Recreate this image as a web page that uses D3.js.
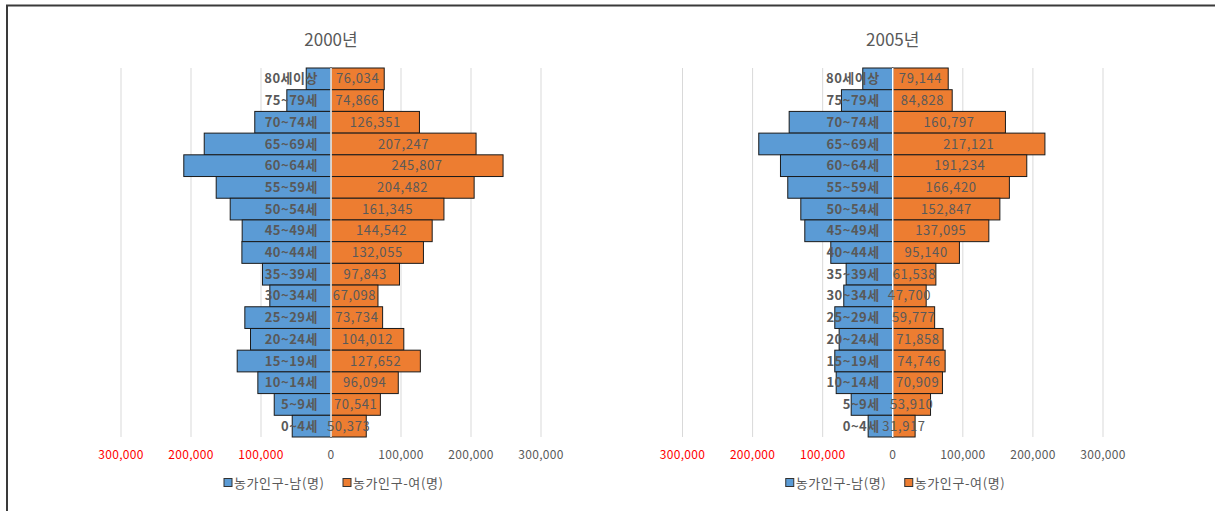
<!DOCTYPE html>
<html>
<head>
<meta charset="utf-8">
<script src="https://cdn.jsdelivr.net/npm/d3@7"></script>
<style>
  body { margin: 0; background: #fff; }
  text { font-family: "Noto Sans CJK KR", "Noto Sans", sans-serif; }
</style>
</head>
<body>
<script>
var width = 1215,
    height = 511;

// age groups, top to bottom
var ages = ["80세이상", "75~79세", "70~74세", "65~69세", "60~64세", "55~59세", "50~54세",
            "45~49세", "40~44세", "35~39세", "30~34세", "25~29세", "20~24세", "15~19세",
            "10~14세", "5~9세", "0~4세"];

// 2000 (male values, female from the labels)
var male2000 = [35400, 63100, 108900, 181100, 210300, 164000, 144000, 126900, 127300,
                97900, 87400, 123100, 115000, 134000, 104500, 81100, 55400];
var female2000 = [76034, 74866, 126351, 207247, 245807, 204482, 161345, 144542, 132055,
                  97843, 67098, 73734, 104012, 127652, 96094, 70541, 50373];

// 2005
var male2005 = [42800, 73200, 147800, 191200, 160200, 149800, 131200, 125500, 88400,
                66500, 69900, 82700, 76500, 82700, 80700, 59300, 35100];
var female2005 = [79144, 84828, 160797, 217121, 191234, 166420, 152847, 137095, 95140,
                  61538, 47700, 59777, 71858, 74746, 70909, 53910, 31917];

var ticks = [-300000, -200000, -100000, 0, 100000, 200000, 300000];
var seriesNames = ["농가인구-남(명)", "농가인구-여(명)"];

var blue = "#5B9BD5", orange = "#ED7D31", gray = "#595959";

var svg = d3.select("body").append("svg")
    .attr("width", width)
    .attr("height", height);

// frame: top and left edge only
svg.append("path")
    .attr("d", "M7,511 V5.5 H1215")
    .attr("fill", "none")
    .attr("stroke", "#3a3a3a")
    .attr("stroke-width", 2);

var fmt = d3.format(",");

function drawPanel(title, male, female, x0, x1) {
    var x = d3.scaleLinear().domain([-300000, 300000]).range([x0, x1]);
    var y = d3.scaleBand().domain(ages).range([68, 437]).padding(0);
    var g = svg.append("g");
    var cx = x(0);

    g.append("text")
        .attr("x", cx)
        .attr("y", 46)
        .attr("text-anchor", "middle")
        .attr("font-size", 17)
        .attr("fill", gray)
        .text(title);

    // gridlines
    g.selectAll(".grid")
        .data(ticks)
        .enter().append("line")
            .attr("x1", function(d) { return x(d); })
            .attr("x2", function(d) { return x(d); })
            .attr("y1", y.range()[0])
            .attr("y2", y.range()[1])
            .attr("stroke", "#d9d9d9")
            .attr("stroke-width", 1);

    // male bars (to the left)
    g.selectAll(".m")
        .data(male)
        .enter().append("rect")
            .attr("x", function(d) { return x(-d); })
            .attr("y", function(d, i) { return y(ages[i]); })
            .attr("width", function(d) { return cx - x(-d); })
            .attr("height", y.bandwidth())
            .attr("fill", blue)
            .attr("stroke", "#1a1a1a")
            .attr("stroke-width", 1);

    // female bars (to the right)
    g.selectAll(".f")
        .data(female)
        .enter().append("rect")
            .attr("x", cx)
            .attr("y", function(d, i) { return y(ages[i]); })
            .attr("width", function(d) { return x(d) - cx; })
            .attr("height", y.bandwidth())
            .attr("fill", orange)
            .attr("stroke", "#1a1a1a")
            .attr("stroke-width", 1);

    // white centre line
    g.append("line")
        .attr("x1", cx).attr("x2", cx)
        .attr("y1", y.range()[0]).attr("y2", y.range()[1])
        .attr("stroke", "#fff")
        .attr("stroke-width", 1.5);

    // age labels
    g.selectAll(".age")
        .data(ages)
        .enter().append("text")
            .attr("x", cx - 13)
            .attr("y", function(d) { return y(d) + y.bandwidth() / 2; })
            .attr("dy", "0.35em")
            .attr("text-anchor", "end")
            .attr("font-size", 13)
            .attr("letter-spacing", 0.5)
            .attr("font-weight", "bold")
            .attr("fill", gray)
            .text(function(d) { return d; });

    // female value labels
    g.selectAll(".val")
        .data(female)
        .enter().append("text")
            .attr("x", function(d) { return (cx + x(d)) / 2; })
            .attr("y", function(d, i) { return y(ages[i]) + y.bandwidth() / 2; })
            .attr("dy", "0.35em")
            .attr("text-anchor", "middle")
            .attr("font-size", 13)
            .attr("letter-spacing", 0.6)
            .attr("fill", gray)
            .text(function(d) { return fmt(d); });

    // x axis labels
    g.selectAll(".tick")
        .data(ticks)
        .enter().append("text")
            .attr("x", function(d) { return x(d); })
            .attr("y", 455)
            .attr("dy", "0.35em")
            .attr("text-anchor", "middle")
            .attr("font-size", 12)
            .attr("letter-spacing", 0.3)
            .attr("fill", function(d) { return d < 0 ? "#FF0000" : gray; })
            .text(function(d) { return fmt(Math.abs(d)); });

    // legend
    var lg = g.append("g");
    var items = [{ name: seriesNames[0], color: blue, dx: -107 }, { name: seriesNames[1], color: orange, dx: 12 }];
    items.forEach(function(it) {
        lg.append("rect")
            .attr("x", cx + it.dx)
            .attr("y", 478.5)
            .attr("width", 8)
            .attr("height", 8)
            .attr("fill", it.color)
            .attr("stroke", "#333")
            .attr("stroke-width", 1);
        lg.append("text")
            .attr("x", cx + it.dx + 10)
            .attr("y", 483)
            .attr("dy", "0.35em")
            .attr("font-size", 13)
            .attr("letter-spacing", 0.6)
            .attr("fill", gray)
            .text(it.name);
    });
}

drawPanel("2000년", male2000, female2000, 121, 541);
drawPanel("2005년", male2005, female2005, 682.5, 1103);
</script>
</body>
</html>
